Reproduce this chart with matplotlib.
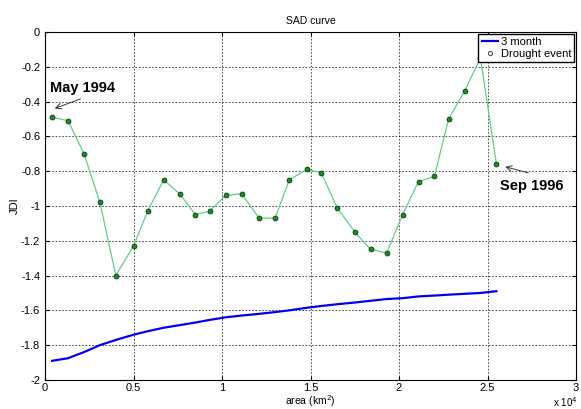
import matplotlib
matplotlib.use("Agg")
import matplotlib.pyplot as plt
import numpy as np

plt.rcParams['font.family'] = ['Liberation Sans', 'DejaVu Sans']

# area in km^2
area = [400, 1300, 2200, 3100, 4000, 5000, 5800, 6700, 7600, 8500,
        9300, 10200, 11100, 12100, 13000, 13800, 14800, 15600, 16500, 17500,
        18400, 19300, 20200, 21100, 22000, 22800, 23700, 24600, 25500]
jdi_event = [-0.49, -0.51, -0.70, -0.98, -1.40, -1.23, -1.03, -0.85, -0.93, -1.05,
             -1.03, -0.94, -0.93, -1.07, -1.07, -0.85, -0.79, -0.81, -1.01, -1.15,
             -1.25, -1.27, -1.05, -0.86, -0.83, -0.50, -0.34, -0.15, -0.76]
jdi_3month = [-1.89, -1.875, -1.84, -1.80, -1.77, -1.74, -1.72, -1.70, -1.685, -1.67,
              -1.655, -1.64, -1.63, -1.62, -1.61, -1.60, -1.585, -1.575, -1.565, -1.555,
              -1.545, -1.535, -1.53, -1.52, -1.515, -1.51, -1.505, -1.50, -1.49]

x = np.array(area) / 1e4

fig = plt.figure(figsize=(5.81, 4.09), dpi=100)
ax = fig.add_axes([0.0775, 0.071, 0.914, 0.851])

ax.plot(x, jdi_3month, color='#0000ee', lw=1.6, label='3 month')
ax.plot(x, jdi_event, color='#66cc88', lw=0.9, zorder=3)
ax.plot(x, jdi_event, ls='none', marker='o', ms=3.5, mfc='#1f8a2a',
        mec='#0a3a0a', mew=0.6, zorder=4)
# legend proxy
ax.plot([], [], ls='none', marker='o', ms=3, mfc='white', mec='#555555',
        mew=0.8, label='Drought event')

ax.set_xlim(0, 3)
ax.set_ylim(-2, 0)
ax.set_xticks([0, 0.5, 1, 1.5, 2, 2.5, 3])
ax.set_xticklabels(['0', '0.5', '1', '1.5', '2', '2.5', '3'])
ax.set_yticks(np.arange(-2, 0.01, 0.2))
ax.set_yticklabels(['-2', '-1.8', '-1.6', '-1.4', '-1.2', '-1', '-0.8',
                    '-0.6', '-0.4', '-0.2', '0'])
ax.tick_params(direction='in', labelsize=8, length=3, top=True, right=True)
ax.tick_params(axis='x', pad=2)
ax.grid(True, color='black', ls=(0, (2, 2)), lw=0.6, alpha=0.8)

ax.set_title('SAD curve', fontsize=7.5, pad=6)
ax.set_xlabel('area (km$^2$)', fontsize=7.5, labelpad=0)
ax.set_ylabel('JDI', fontsize=8, labelpad=1)
fig.text(0.952, 0.004, 'x 10$^4$', fontsize=7)

bold_fam = ['Liberation Sans Narrow', 'Liberation Sans', 'DejaVu Sans']
ax.annotate('', xy=(0.055, -0.44), xytext=(0.2, -0.385),
            arrowprops=dict(arrowstyle='->', color='#333333', lw=0.7,
                            shrinkA=0, shrinkB=0))
ax.text(0.21, -0.32, 'May 1994', fontsize=10.5, fontweight='bold',
        family=bold_fam, ha='center', va='center')
ax.annotate('', xy=(2.6, -0.775), xytext=(2.73, -0.81),
            arrowprops=dict(arrowstyle='->', color='#333333', lw=0.7,
                            shrinkA=0, shrinkB=0))
ax.text(2.75, -0.885, 'Sep 1996', fontsize=10.5, fontweight='bold',
        family=bold_fam, ha='center', va='center')

ax.legend(loc='upper right', fontsize=8, frameon=True, fancybox=False,
          edgecolor='black', borderpad=0.3, handlelength=1.5,
          handletextpad=0.2, labelspacing=0.2, borderaxespad=0.15,
          framealpha=1)

fig.savefig('out.png', dpi=100)
